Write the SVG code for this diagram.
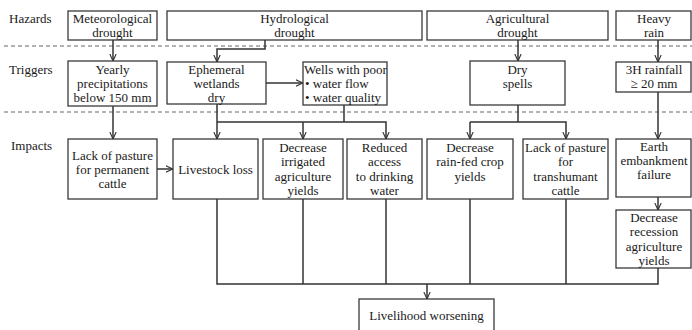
<svg xmlns="http://www.w3.org/2000/svg" width="692" height="330" viewBox="0 0 692 330">
<style>
text{font-family:"Liberation Serif","Times New Roman",serif;font-size:13px;fill:#1a1a1a}
.c{text-anchor:middle}
.box{fill:#fff;stroke:#3a3a3a;stroke-width:1.3}
.ln{fill:none;stroke:#333;stroke-width:1.5}
.dash{stroke:#666;stroke-width:1;stroke-dasharray:4 3}
</style>
<defs>
<marker id="ah" viewBox="0 0 10 10" refX="10" refY="5" markerWidth="7" markerHeight="9" markerUnits="userSpaceOnUse" orient="auto">
<path d="M0,0.5 L10,5 L0,9.5" fill="none" stroke="#333" stroke-width="1.6"/>
</marker>
</defs>
<rect width="692" height="330" fill="#fff"/>
<g id="labels">
<text x="9" y="23">Hazards</text>
<text x="9" y="74">Triggers</text>
<text x="11" y="150">Impacts</text>
<line class="dash" x1="4" y1="46" x2="692" y2="46"/>
<line class="dash" x1="4" y1="112" x2="692" y2="112"/>
</g>
<g id="connectors">
<line class="ln" x1="113" y1="40" x2="113" y2="61" marker-end="url(#ah)"/>
<polyline class="ln" points="265,40 265,49 217,49 217,62" marker-end="url(#ah)"/>
<line class="ln" x1="266" y1="83" x2="303" y2="83" marker-end="url(#ah)"/>
<line class="ln" x1="518" y1="40" x2="518" y2="61" marker-end="url(#ah)"/>
<line class="ln" x1="658" y1="40" x2="658" y2="62" marker-end="url(#ah)"/>
<line class="ln" x1="113" y1="106" x2="113" y2="139" marker-end="url(#ah)"/>
<line class="ln" x1="217" y1="104" x2="217" y2="139" marker-end="url(#ah)"/>
<polyline class="ln" points="344,105 344,122"/>
<polyline class="ln" points="217,122 386,122 386,139" marker-end="url(#ah)"/>
<line class="ln" x1="303" y1="122" x2="303" y2="139" marker-end="url(#ah)"/>
<line class="ln" x1="518" y1="105" x2="518" y2="122"/>
<polyline class="ln" points="470,122 566,122 566,139" marker-end="url(#ah)"/>
<line class="ln" x1="470" y1="122" x2="470" y2="139" marker-end="url(#ah)"/>
<line class="ln" x1="658" y1="92" x2="658" y2="139" marker-end="url(#ah)"/>
<line class="ln" x1="157" y1="169" x2="173" y2="169" marker-end="url(#ah)"/>
<line class="ln" x1="658" y1="197" x2="658" y2="210" marker-end="url(#ah)"/>
<polyline class="ln" points="217,199 217,284 658,284 658,268"/>
<line class="ln" x1="303" y1="199" x2="303" y2="284"/>
<line class="ln" x1="386" y1="199" x2="386" y2="284"/>
<line class="ln" x1="470" y1="199" x2="470" y2="284"/>
<line class="ln" x1="566" y1="199" x2="566" y2="284"/>
<line class="ln" x1="427" y1="284" x2="427" y2="299" marker-end="url(#ah)"/>
</g>
<g id="met">
<rect class="box" x="68" y="11" width="89" height="29"/>
<text class="c" x="112.5" y="23">Meteorological</text>
<text class="c" x="112.5" y="37">drought</text>
</g>
<g id="hydro">
<rect class="box" x="167" y="11" width="255" height="29"/>
<text class="c" x="294.5" y="23">Hydrological</text>
<text class="c" x="294.5" y="37">drought</text>
</g>
<g id="agri">
<rect class="box" x="427" y="11" width="181" height="29"/>
<text class="c" x="517.5" y="23">Agricultural</text>
<text class="c" x="517.5" y="37">drought</text>
</g>
<g id="heavy">
<rect class="box" x="616" y="11" width="75" height="29"/>
<text class="c" x="654" y="23">Heavy</text>
<text class="c" x="654" y="37">rain</text>
</g>
<g id="yearly">
<rect class="box" x="68" y="61" width="89" height="45"/>
<text class="c" x="112.5" y="74">Yearly</text>
<text class="c" x="112.5" y="88">precipitations</text>
<text class="c" x="112.5" y="102">below 150 mm</text>
</g>
<g id="ephemeral">
<rect class="box" x="167" y="62" width="99" height="42"/>
<text class="c" x="216.5" y="74">Ephemeral</text>
<text class="c" x="216.5" y="88">wetlands</text>
<text class="c" x="216.5" y="102">dry</text>
</g>
<g id="wells">
<rect class="box" x="303" y="62" width="84" height="43"/>
<text x="304" y="74">Wells with poor</text>
<text x="305" y="88">• water flow</text>
<text x="305" y="102">• water quality</text>
</g>
<g id="dry">
<rect class="box" x="470" y="61" width="95" height="44"/>
<text class="c" x="517.5" y="74">Dry</text>
<text class="c" x="517.5" y="88">spells</text>
</g>
<g id="rainfall">
<rect class="box" x="616" y="62" width="75" height="30"/>
<text class="c" x="654" y="74">3H rainfall</text>
<text class="c" x="654" y="88">≥ 20 mm</text>
</g>
<g id="pasture-perm">
<rect class="box" x="68" y="139" width="89" height="60"/>
<text class="c" x="112.5" y="160">Lack of pasture</text>
<text class="c" x="112.5" y="174">for permanent</text>
<text class="c" x="112.5" y="188">cattle</text>
</g>
<g id="livestock">
<rect class="box" x="173" y="139" width="85" height="60"/>
<text class="c" x="215.5" y="174">Livestock loss</text>
</g>
<g id="irrigated">
<rect class="box" x="263" y="139" width="80" height="60"/>
<text class="c" x="303" y="152">Decrease</text>
<text class="c" x="303" y="166">irrigated</text>
<text class="c" x="303" y="181">agriculture</text>
<text class="c" x="303" y="195">yields</text>
</g>
<g id="drinking">
<rect class="box" x="347" y="139" width="75" height="60"/>
<text class="c" x="384.5" y="152">Reduced</text>
<text class="c" x="384.5" y="166">access</text>
<text class="c" x="384.5" y="181">to drinking</text>
<text class="c" x="384.5" y="195">water</text>
</g>
<g id="rainfed">
<rect class="box" x="427" y="139" width="86" height="60"/>
<text class="c" x="470" y="152">Decrease</text>
<text class="c" x="470" y="166">rain-fed crop</text>
<text class="c" x="470" y="181">yields</text>
</g>
<g id="pasture-trans">
<rect class="box" x="523" y="139" width="85" height="60"/>
<text class="c" x="565.5" y="152">Lack of pasture</text>
<text class="c" x="565.5" y="166">for</text>
<text class="c" x="565.5" y="181">transhumant</text>
<text class="c" x="565.5" y="195">cattle</text>
</g>
<g id="embankment">
<rect class="box" x="616" y="139" width="75" height="58"/>
<text class="c" x="654" y="151">Earth</text>
<text class="c" x="654" y="165">embankment</text>
<text class="c" x="654" y="179">failure</text>
</g>
<g id="recession">
<rect class="box" x="616" y="210" width="75" height="58"/>
<text class="c" x="654" y="222">Decrease</text>
<text class="c" x="654" y="236">recession</text>
<text class="c" x="654" y="251">agriculture</text>
<text class="c" x="654" y="265">yields</text>
</g>
<g id="livelihood">
<rect class="box" x="359" y="299" width="135" height="40"/>
<text class="c" x="426.5" y="320">Livelihood worsening</text>
</g>
</svg>
